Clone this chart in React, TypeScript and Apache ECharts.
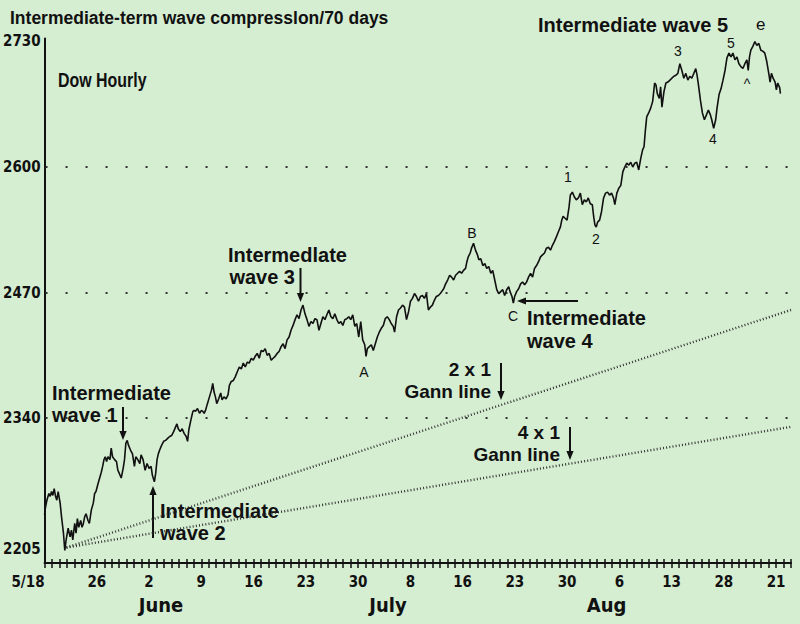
import React, { useEffect, useRef } from "react";
import * as echarts from "echarts";

// ---- data (days counted from 5/18, Dow points) ----
const hourDays = [
  0, 0.13, 0.31, 0.58, 0.76, 0.93, 1.11, 1.29, 1.47, 1.64, 1.82, 2.09, 2.27, 2.53, 2.71, 2.89, 3.16, 3.42, 3.6, 3.78,
  4.04, 4.22, 4.4, 4.58, 4.84, 5.02, 5.2, 5.38, 5.56, 5.82, 6.0, 6.27, 6.53, 6.71, 6.89, 7.16, 7.42, 7.6, 7.78, 7.96,
  8.13, 8.31, 8.49, 8.76, 8.93, 9.11, 9.38, 9.64, 9.82, 10.0, 10.27, 10.53, 10.71, 10.89, 11.07, 11.24, 11.51, 11.78, 12.04, 12.22,
  12.49, 12.76, 12.93, 13.2, 13.47, 13.73, 14.0, 14.27, 14.44, 14.71, 14.89, 15.07, 15.24, 15.42, 15.69, 15.96, 16.22, 16.49, 16.76, 17.02,
  17.29, 17.56, 17.73, 17.91, 18.18, 18.44, 18.71, 18.98, 19.16, 19.33, 19.6, 19.87, 20.04, 20.22, 20.49, 20.76, 21.02, 21.2, 21.38, 21.56,
  21.82, 22.09, 22.36, 22.53, 22.71, 22.89, 23.07, 23.33, 23.6, 23.78, 24.04, 24.31, 24.58, 24.76, 25.02, 25.29, 25.56, 25.82,
  26.09, 26.36, 26.62, 26.89, 27.16, 27.42, 27.69, 27.96, 28.22, 28.49, 28.76, 29.02, 29.29, 29.56, 29.82, 30.09, 30.36, 30.62, 30.89, 31.16,
  31.42, 31.69, 31.96, 32.22, 32.49, 32.76, 33.02, 33.29, 33.56, 33.82, 34.09, 34.36, 34.62, 34.89, 35.16, 35.42, 35.69, 35.96, 36.22, 36.49,
  36.76, 37.02, 37.29, 37.56, 37.82, 38.09, 38.36, 38.62, 38.89, 39.16, 39.42, 39.69, 39.96, 40.22, 40.49, 40.76, 41.02, 41.29, 41.56, 41.82,
  42.09, 42.36, 42.62, 42.89, 43.07, 43.24, 43.51, 43.78, 44.04, 44.31, 44.58, 44.84, 45.11, 45.38, 45.64, 45.91, 46.18, 46.44, 46.71, 46.89,
  47.16, 47.42, 47.69, 47.96, 48.22, 48.49, 48.76, 49.02, 49.29, 49.56, 49.82, 50.09, 50.36, 50.62, 50.89, 51.16, 51.42, 51.69, 51.96, 52.22,
  52.49, 52.76, 53.02, 53.2,
  53.47, 53.73, 54.0, 54.27, 54.53, 54.8, 55.07, 55.33, 55.6, 55.87, 56.13, 56.4, 56.58, 56.76, 57.02, 57.2, 57.47, 57.73, 58.0, 58.18,
  58.44, 58.71, 58.98, 59.24, 59.51, 59.78, 60.04, 60.31, 60.58, 60.84, 61.11, 61.38, 61.64, 61.91, 62.18, 62.36, 62.62, 62.8, 62.98, 63.24,
  63.51, 63.78, 64.04, 64.31, 64.58, 64.84, 65.11, 65.38, 65.64, 65.91, 66.18, 66.44, 66.71, 66.98, 67.24, 67.51, 67.78, 68.04, 68.31, 68.58,
  68.84, 69.11, 69.29, 69.47, 69.73, 70.0, 70.27, 70.44, 70.71, 70.98, 71.24, 71.51, 71.78, 72.04, 72.31, 72.58, 72.84, 73.11, 73.38, 73.56,
  73.73, 73.91, 74.09, 74.36, 74.62, 74.89, 75.16, 75.42, 75.69, 75.96, 76.22, 76.4, 76.67, 76.93, 77.2,
  77.47, 77.73, 78.0, 78.27, 78.53, 78.8, 79.07, 79.33, 79.6, 79.87, 80.13, 80.31, 80.49, 80.67, 80.93, 81.2, 81.47, 81.73, 81.91, 82.09,
  82.36, 82.53, 82.71, 82.98, 83.24, 83.51, 83.78, 84.04, 84.31, 84.58, 84.84, 85.11, 85.38, 85.64, 85.91, 86.18, 86.44, 86.71, 86.98, 87.24,
  87.42, 87.6, 87.87, 88.13, 88.4, 88.67, 88.93, 89.2, 89.38, 89.64, 89.91, 90.09, 90.36, 90.62, 90.89, 91.16, 91.42, 91.69, 91.96, 92.22,
  92.49, 92.76, 93.02, 93.29, 93.56, 93.82, 94.09, 94.27, 94.44, 94.62, 94.89, 95.16, 95.42, 95.69, 95.96, 96.22, 96.49, 96.76, 97.02, 97.2,
  97.38, 97.6, 97.87, 98.04, 98.22, 98.49, 98.58,
];
const dowPrices = [
  2240, 2248, 2255, 2262, 2259, 2264, 2260, 2267, 2259, 2255, 2264, 2252, 2238, 2221, 2203, 2214, 2226, 2217, 2224, 2214,
  2231, 2221, 2236, 2227, 2234, 2227, 2231, 2238, 2241, 2234, 2231, 2245, 2252, 2262, 2264, 2272, 2279, 2284, 2290, 2297,
  2300, 2295, 2300, 2297, 2309, 2300, 2297, 2295, 2286, 2283, 2278, 2288, 2297, 2314, 2317, 2312, 2307, 2303, 2290, 2300,
  2297, 2293, 2302, 2297, 2286, 2293, 2288, 2290, 2281, 2274, 2283, 2297, 2303, 2307, 2312, 2316, 2317, 2319, 2321, 2322,
  2326, 2331, 2334, 2329, 2326, 2329, 2324, 2321, 2316, 2328, 2338, 2347, 2348, 2347, 2350, 2345, 2348, 2347, 2345, 2348,
  2355, 2362, 2369, 2376, 2367, 2362, 2355, 2360, 2366, 2359, 2362, 2360, 2364, 2374, 2378, 2379, 2383, 2388,
  2393, 2391, 2397, 2393, 2398, 2397, 2402, 2400, 2404, 2407, 2402, 2410, 2409, 2412, 2405, 2407, 2400, 2402, 2404, 2407,
  2409, 2414, 2417, 2412, 2421, 2424, 2431, 2436, 2442, 2447, 2443, 2452, 2457, 2448, 2442, 2435, 2440, 2438, 2443, 2442,
  2431, 2438, 2445, 2442, 2447, 2452, 2445, 2443, 2448, 2442, 2438, 2440, 2436, 2442, 2443, 2445, 2442, 2447, 2435, 2438,
  2424, 2440, 2421, 2416, 2404, 2412, 2414, 2416, 2410, 2417, 2424, 2429, 2433, 2436, 2443, 2445, 2442, 2438, 2435, 2429,
  2445, 2452, 2454, 2457, 2455, 2442, 2450, 2461, 2464, 2469, 2466, 2461, 2466, 2467, 2464, 2469, 2452, 2455, 2457, 2462,
  2466, 2467, 2469, 2471,
  2474, 2479, 2483, 2488, 2486, 2483, 2488, 2490, 2492, 2490, 2493, 2495, 2502, 2507, 2511, 2516, 2521, 2514, 2509, 2504,
  2505, 2498, 2500, 2495, 2497, 2490, 2493, 2483, 2473, 2469, 2471, 2473, 2467, 2473, 2476, 2471, 2466, 2459, 2466, 2471,
  2474, 2479, 2481, 2478, 2481, 2486, 2490, 2486, 2495, 2498, 2502, 2507, 2509, 2511, 2516, 2517, 2514, 2519, 2523, 2528,
  2533, 2538, 2545, 2549, 2547, 2545, 2559, 2571, 2574, 2569, 2566, 2568, 2573, 2561, 2566, 2564, 2568, 2562, 2561, 2549,
  2540, 2538, 2543, 2545, 2554, 2568, 2573, 2574, 2571, 2573, 2568, 2561, 2573, 2578, 2581,
  2595, 2600, 2604, 2602, 2605, 2600, 2604, 2605, 2597, 2609, 2618, 2621, 2638, 2652, 2656, 2661, 2668, 2687, 2685, 2676,
  2671, 2683, 2662, 2678, 2687, 2688, 2690, 2692, 2694, 2695, 2697, 2707, 2700, 2692, 2697, 2690, 2694, 2692, 2697, 2702,
  2695, 2685, 2669, 2656, 2649, 2654, 2659, 2654, 2649, 2640, 2649, 2661, 2675, 2681, 2690, 2700, 2713, 2718, 2714, 2718,
  2711, 2714, 2707, 2704, 2702, 2707, 2711, 2700, 2714, 2721, 2725, 2730, 2726, 2728, 2721, 2720, 2718, 2709, 2697, 2688,
  2697, 2692, 2688, 2680, 2687, 2682, 2676,
];

const yTickValues = [2205, 2340, 2470, 2600, 2730];
const yTickLabels = ["2205", "2340", "2470", "2600", "2730"];
const xTickDays = [0, 7, 14, 21, 28, 35, 42, 49, 56, 63, 70, 77, 84, 91, 98];
const xTickLabels = ["5/18", "26", "2", "9", "16", "23", "30", "8", "16", "23", "30", "6", "13", "28", "21"];
const monthNames = ["June", "July", "Aug"];
const monthDays = [15.6, 46, 75.3];
const levelLines = [2340, 2470, 2600];
const gannDays = [2.93, 100];
const gann2x1 = [2206, 2452];
const gann4x1 = [2206, 2331];

const NARROW = "'Liberation Sans Narrow', 'DejaVu Sans Condensed', 'Liberation Sans', sans-serif";
const HELV = "'Liberation Sans', Arial, sans-serif";

function txt(text: string, x: number, y: number, size: number, opts: any = {}) {
  return {
    type: "text",
    silent: true,
    x,
    y,
    scaleX: opts.scaleX ?? 1,
    style: {
      text,
      x: 0,
      y: 0,
      fill: "#111",
      fontSize: size,
      fontWeight: opts.weight ?? "bold",
      fontFamily: opts.family ?? HELV,
      textAlign: opts.align ?? "left",
      align: opts.align ?? "left",
      textVerticalAlign: "middle",
      verticalAlign: "middle",
    },
  };
}

function arrow(x1: number, y1: number, x2: number, y2: number) {
  const dx = x2 - x1;
  const dy = y2 - y1;
  const len = Math.sqrt(dx * dx + dy * dy);
  const ux = dx / len;
  const uy = dy / len;
  const hl = 9;
  const hw = 3.6;
  const bx = x2 - ux * hl;
  const by = y2 - uy * hl;
  return [
    { type: "line", silent: true, shape: { x1, y1, x2: bx, y2: by }, style: { stroke: "#111", lineWidth: 2 } },
    {
      type: "polygon",
      silent: true,
      shape: { points: [[x2, y2], [bx - uy * hw, by + ux * hw], [bx + uy * hw, by - ux * hw]] },
      style: { fill: "#111" },
    },
  ];
}

export default function App() {
  const ref = useRef<HTMLDivElement>(null);
  useEffect(() => {
    if (!ref.current) return;
    const chart = echarts.init(ref.current, null, { renderer: "svg" });
    const lookup = (vals: number[], labels: string[]) => (v: number) => {
      const i = vals.findIndex((t) => Math.abs(t - v) < 1e-6);
      return i >= 0 ? labels[i] : "";
    };
    const pricePoints = hourDays.map((d, i) => [d, dowPrices[i]]);
    const option: any = {
      animation: false,
      backgroundColor: "#d5edd1",
      grid: { left: 41, top: 38.6, width: 750, height: 524.4, containLabel: false },
      xAxis: [
        {
          type: "value",
          min: 0,
          max: 100,
          interval: 1,
          axisLine: { onZero: false, lineStyle: { color: "#111", width: 2 } },
          axisTick: { show: true, length: 5, lineStyle: { color: "#111", width: 1.5 } },
          splitLine: { show: false },
          axisLabel: {
            customValues: xTickDays,
            formatter: lookup(xTickDays, xTickLabels),
            alignMinLabel: "right",
            margin: 11,
            color: "#111",
            fontFamily: NARROW,
            fontWeight: "bold",
            fontSize: 15,
          },
        },
        {
          type: "value",
          min: 0,
          max: 100,
          interval: 1,
          position: "bottom",
          axisLine: { show: false, onZero: false },
          axisTick: { show: true, inside: true, length: 4, lineStyle: { color: "#111", width: 1.5 } },
          splitLine: { show: false },
          axisLabel: {
            customValues: monthDays,
            formatter: lookup(monthDays, monthNames),
            margin: 32,
            color: "#111",
            fontFamily: NARROW,
            fontWeight: "bold",
            fontSize: 20,
          },
        },
      ],
      yAxis: {
        type: "value",
        min: 2190,
        max: 2733,
        axisLine: { show: true, onZero: false, lineStyle: { color: "#111", width: 2 } },
        axisTick: { show: false },
        splitLine: { show: false },
        axisLabel: {
          customValues: yTickValues,
          formatter: lookup(yTickValues, yTickLabels),
          margin: 4,
          color: "#111",
          fontFamily: NARROW,
          fontWeight: "bold",
          fontSize: 15,
        },
      },
      series: [
        {
          type: "line",
          data: gannDays.map((d, i) => [d, gann2x1[i]]),
          showSymbol: false,
          silent: true,
          lineStyle: { color: "#333", width: 2.4, type: [1, 2.2] },
        },
        {
          type: "line",
          data: gannDays.map((d, i) => [d, gann4x1[i]]),
          showSymbol: false,
          silent: true,
          lineStyle: { color: "#333", width: 2.4, type: [1, 2.2] },
        },
        {
          type: "line",
          data: pricePoints,
          showSymbol: false,
          silent: true,
          lineStyle: { color: "#111", width: 1.6 },
          markLine: {
            silent: true,
            symbol: ["none", "none"],
            label: { show: false },
            lineStyle: { color: "#333", width: 2, type: [2, 18], dashOffset: -1 },
            data: levelLines.map((v) => ({ yAxis: v })),
          },
        },
      ],
      graphic: {
        elements: [
          txt("Intermediate-term wave compresslon/70 days", 10, 18, 17.5),
          txt("Dow Hourly", 58, 80, 21, { scaleX: 0.76 }),
          txt("Intermediate wave 5", 538, 25, 20),
          txt("e", 756, 24, 17, { weight: "normal" }),
          txt("3", 678, 51, 14, { weight: "normal", align: "center" }),
          txt("5", 731, 43, 14, { weight: "normal", align: "center" }),
          txt("^", 747, 84, 14, { weight: "normal", align: "center" }),
          txt("4", 713, 139, 14, { weight: "normal", align: "center" }),
          txt("1", 568, 177, 14, { weight: "normal", align: "center" }),
          txt("2", 596, 239, 14, { weight: "normal", align: "center" }),
          txt("B", 472, 233, 14, { weight: "normal", align: "center" }),
          txt("C", 513, 316, 14, { weight: "normal", align: "center" }),
          txt("A", 364, 372, 14, { weight: "normal", align: "center" }),
          txt("Intermedlate", 228, 255, 20),
          txt("wave 3", 295, 277, 20, { align: "right" }),
          ...arrow(300.5, 268, 300.5, 302),
          txt("Intermediate", 527, 318, 20),
          txt("wave 4", 527, 341, 20),
          ...arrow(578, 301, 517, 301),
          txt("2 x 1", 491, 369, 19, { align: "right" }),
          txt("Gann line", 491, 391, 19, { align: "right" }),
          ...arrow(501, 363, 501, 400),
          txt("4 x 1", 560, 432, 19, { align: "right" }),
          txt("Gann line", 560, 454, 19, { align: "right" }),
          ...arrow(570, 427, 570, 460),
          txt("Intermediate", 52, 393, 20),
          txt("wave 1", 52, 415, 20),
          ...arrow(123, 407, 123, 440),
          txt("Intermediate", 160, 511, 20),
          txt("wave 2", 160, 533, 20),
          ...arrow(153, 538, 153, 486),
        ],
      },
    };
    chart.setOption(option);
    return () => chart.dispose();
  }, []);
  return (
    <div
      ref={ref}
      style={{ position: "fixed", left: 0, top: 0, width: 800, height: 624, background: "#d5edd1" }}
    />
  );
}
